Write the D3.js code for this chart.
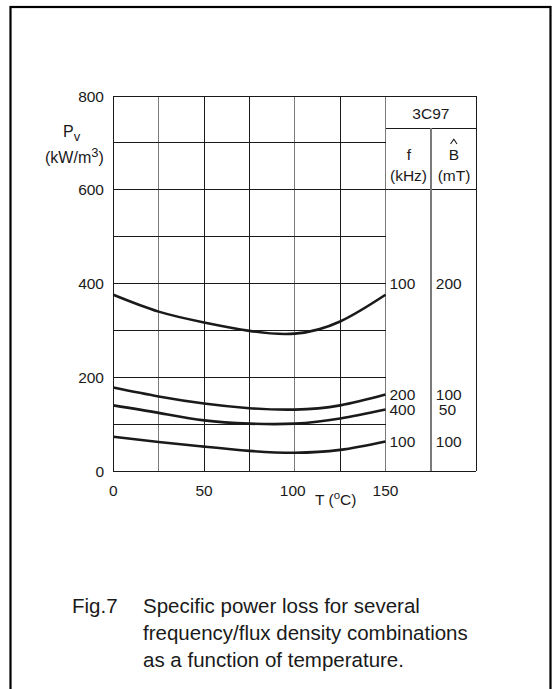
<!DOCTYPE html>
<html>
<head>
<meta charset="utf-8">
<style>
    body { margin: 0; background: #fff; }
    svg { display: block; font-family: 'Liberation Sans', Arial, sans-serif; }
    .grid { stroke: #1a1a1a; stroke-width: 1; shape-rendering: crispEdges; }
    .grid.light { stroke: #7a7a7a; stroke-width: 1.4; }
    .curve { fill: none; stroke: #1a1a1a; stroke-width: 2.6; }
    text { fill: #1a1a1a; }
</style>
</head>
<body>
<svg width="554" height="689"></svg>

<script src="https://d3js.org/d3.v7.min.js"></script>
<script>
    // temperature points (deg C) the curves were read at
    const temps = [0, 25, 50, 75, 100, 125, 150]

    // Pv (kW/m3) for each f / B combination
    const pv_100k_200mT = [376, 340, 317, 299, 293, 319, 376]
    const pv_200k_100mT = [178, 159, 144, 134, 131, 140, 163]
    const pv_400k_50mT = [140, 124, 108, 101, 101, 112, 131]
    const pv_100k_100mT = [73, 62, 52, 43, 39, 45, 63]

    const freqs = [100, 200, 400, 100]     // kHz
    const fluxes = [200, 100, 50, 100]     // mT
    const labelLevels = [400, 164, 131, 63] // where the right hand labels sit (kW/m3)

    const xTicks = [0, 50, 100, 150]
    const yTicks = [0, 200, 400, 600, 800]
    const material = "3C97"

    const series = [pv_100k_200mT, pv_200k_100mT, pv_400k_50mT, pv_100k_100mT]

    let svg = d3.select("svg")
    const fs = "15.5px"

    // outer frame
    svg.append("rect")
        .attr("x", 10.5).attr("y", 7)
        .attr("width", 540).attr("height", 720)
        .style("fill", "none")
        .style("stroke", "#000")
        .style("stroke-width", 2.2)

    // the table on the right just continues the temperature scale (175, 200)
    let x = d3.scaleLinear().domain([0, 150]).range([113.3, 385.5])
    let y = d3.scaleLinear().domain([0, 800]).range([471, 96])

    let grid = svg.append("g")

    // vertical grid lines
    d3.range(0, 151, 25).forEach(t => {
        grid.append("line")
            .attr("class", (t == 25 || t == 100 || t == 150) ? "grid light" : "grid")
            .attr("x1", x(t)).attr("x2", x(t))
            .attr("y1", y(0)).attr("y2", y(800))
    })

    // horizontal grid lines, 0/600/800 run on through the table
    d3.range(0, 801, 100).forEach(v => {
        let wide = (v == 0 || v == 600 || v == 800)
        grid.append("line")
            .attr("class", "grid")
            .attr("x1", x(0)).attr("x2", wide ? x(200) : x(150))
            .attr("y1", y(v)).attr("y2", y(v))
    })

    // table lines
    grid.append("line").attr("class", "grid")
        .attr("x1", x(150)).attr("x2", x(200))
        .attr("y1", y(731)).attr("y2", y(731))
    grid.append("line").attr("class", "grid light")
        .attr("x1", x(175)).attr("x2", x(175))
        .attr("y1", y(731)).attr("y2", y(0))
    grid.append("line").attr("class", "grid")
        .attr("x1", x(200)).attr("x2", x(200))
        .attr("y1", y(800)).attr("y2", y(0))

    // curves
    let line = d3.line()
        .x((d, i) => x(temps[i]))
        .y(d => y(d))
        .curve(d3.curveNatural)

    svg.append("g")
        .selectAll("path")
        .data(series)
        .join("path")
        .attr("class", "curve")
        .attr("d", line)

    // tick labels
    svg.append("g")
        .selectAll("text")
        .data(yTicks)
        .join("text")
        .attr("x", 104)
        .attr("y", d => y(d))
        .attr("dy", "0.36em")
        .attr("text-anchor", "end")
        .style("font-size", fs)
        .text(d => d)

    svg.append("g")
        .selectAll("text")
        .data(xTicks)
        .join("text")
        .attr("x", d => x(d) - (d == 100 ? 2 : 0))
        .attr("y", 496)
        .attr("text-anchor", "middle")
        .style("font-size", fs)
        .text(d => d)

    // axis titles
    let pv = svg.append("text")
        .attr("x", 63).attr("y", 137)
        .style("font-size", "16px")
    pv.append("tspan").text("P")
    pv.append("tspan").attr("dy", 4).style("font-size", "13px").text("v")

    let unit = svg.append("text")
        .attr("x", 45).attr("y", 163)
        .style("font-size", "16px")
    unit.append("tspan").text("(kW/m")
    unit.append("tspan").attr("dy", -6).style("font-size", "13px").text("3")
    unit.append("tspan").attr("dy", 6).text(")")

    let tl = svg.append("text")
        .attr("x", 315).attr("y", 505)
        .style("font-size", fs)
    tl.append("tspan").text("T  (")
    tl.append("tspan").attr("dy", -6).style("font-size", "11.5px").text("o")
    tl.append("tspan").attr("dy", 6).text("C)")

    // table header
    svg.append("text")
        .attr("x", x(175)).attr("y", 113)
        .attr("dy", "0.36em")
        .attr("text-anchor", "middle")
        .style("font-size", fs)
        .text(material)

    svg.append("text")
        .attr("x", 409).attr("y", 154)
        .attr("dy", "0.36em")
        .attr("text-anchor", "middle")
        .style("font-size", fs)
        .text("f")
    svg.append("text")
        .attr("x", 408.5).attr("y", 175)
        .attr("dy", "0.36em")
        .attr("text-anchor", "middle")
        .style("font-size", fs)
        .text("(kHz)")
    svg.append("text")
        .attr("x", 454).attr("y", 154)
        .attr("dy", "0.36em")
        .attr("text-anchor", "middle")
        .style("font-size", fs)
        .text("B")
    svg.append("path")
        .attr("d", "M450.5,144 L453.8,139.3 L457,144")
        .style("fill", "none")
        .style("stroke", "#1a1a1a")
        .style("stroke-width", 1.1)
    svg.append("text")
        .attr("x", 454).attr("y", 175)
        .attr("dy", "0.36em")
        .attr("text-anchor", "middle")
        .style("font-size", fs)
        .text("(mT)")

    // curve labels in the table
    let labels = svg.append("g")
        .selectAll("g")
        .data(labelLevels)
        .join("g")
    labels.append("text")
        .attr("x", x(150) + 4)
        .attr("y", d => y(d))
        .attr("dy", "0.36em")
        .style("font-size", fs)
        .text((d, i) => freqs[i])
    labels.append("text")
        .attr("x", (d, i) => x(175) + (fluxes[i] < 100 ? 8 : 5))
        .attr("y", d => y(d))
        .attr("dy", "0.36em")
        .style("font-size", fs)
        .text((d, i) => fluxes[i])

    // caption
    let caption = [
        "Specific power loss for several",
        "frequency/flux density combinations",
        "as a function of temperature."
    ]
    svg.append("text")
        .attr("x", 72).attr("y", 612.5)
        .style("font-size", "20.5px")
        .text("Fig.7")
    svg.append("g")
        .selectAll("text")
        .data(caption)
        .join("text")
        .attr("x", 143)
        .attr("y", (d, i) => 612.5 + i * 27)
        .style("font-size", "20.5px")
        .text(d => d)
</script>
</body>
</html>
